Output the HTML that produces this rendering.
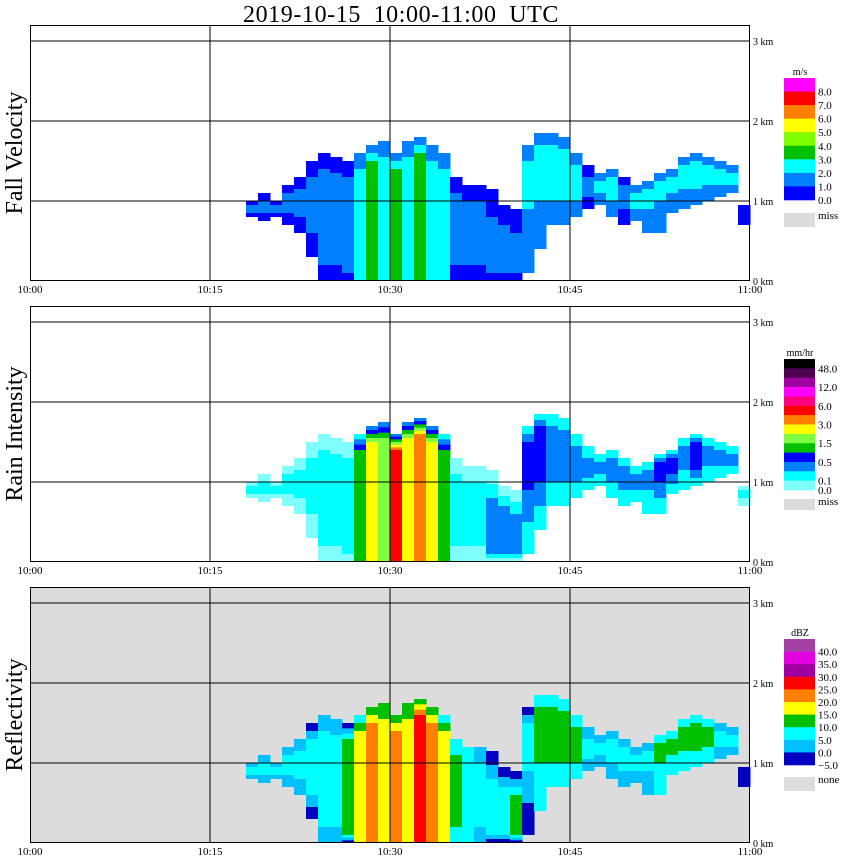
<!DOCTYPE html>
<html><head><meta charset="utf-8"><style>
html,body{margin:0;padding:0;background:#fff;}
svg{display:block;font-family:"Liberation Serif",serif;}
</style></head><body>
<svg id="chart" width="850" height="868" xmlns="http://www.w3.org/2000/svg">
<text x="401" y="22" font-size="24" text-anchor="middle" word-spacing="6" letter-spacing="0.6">2019-10-15  10:00-11:00 UTC</text>
</svg>
<script>
// ---- data (per minute, starting at minute 18) ----
const startMinute = 18;
const echoBase = [0.8,0.75,0.8,0.7,0.6,0.3,0,0,0,0,0,0,0,0,0,0,0,0,0,0,0,0,0,0.1,0.4,0.7,0.7,0.8,0.9,0.95,0.8,0.7,0.75,0.6,0.6,0.85,0.9,0.95,1.0,1.05,1.1,0.7];
const echoTop  = [1.0,1.1,1.0,1.2,1.3,1.5,1.6,1.55,1.5,1.6,1.7,1.75,1.6,1.75,1.8,1.7,1.6,1.3,1.2,1.2,1.15,0.95,0.9,1.7,1.85,1.85,1.8,1.6,1.45,1.35,1.4,1.3,1.2,1.25,1.35,1.4,1.55,1.6,1.55,1.5,1.45,0.95];
const coreLo   = [0.85,0.85,0.85,0.85,0.8,0.6,0.2,0.2,0.1,0,0,0,0,0,0,0,0,0.2,0.2,0.2,0.1,0.1,0.1,0.9,1.0,1.0,1.0,1.0,1.05,1.1,1.0,0.9,0.9,0.9,1.0,1.1,1.15,1.15,1.2,1.2,1.2,0.8];
const coreHi   = [0.95,1.0,0.95,1.1,1.15,1.3,1.4,1.35,1.3,1.4,1.5,1.55,1.4,1.55,1.6,1.5,1.4,1.1,1.0,1.0,0.8,0.7,0.6,1.5,1.7,1.7,1.65,1.45,1.3,1.25,1.3,1.2,1.1,1.15,1.25,1.3,1.45,1.5,1.45,1.4,1.35,0.9];
const fvEdge = [0,0,0,0,0,0,0,0,0,1,1,1,1,1,1,1,1,0,0,0,0,0,0,1,1,1,1,1,0,1,1,0,1,1,1,1,1,1,1,1,1,0];
const fvCore = [1,1,1,1,1,1,1,1,1,2,3,2,3,2,3,2,2,1,1,1,1,1,1,2,2,2,2,2,1,2,2,1,2,2,2,2,2,2,2,2,2,0];
const rrEdge = [0,0,0,0,0,0,0,0,0,1,2,2,2,2,2,2,1,0,0,0,0,0,0,1,1,1,1,1,1,1,1,1,1,1,1,1,1,1,1,1,1,0];
const rrCore = [1,1,1,1,1,1,1,1,1,4,6,5,8,6,7,6,4,1,1,1,2,2,2,3,3,2,2,2,2,2,2,2,2,2,3,3,2,3,2,2,2,1];
const dzEdge = [1,1,1,1,1,0,1,1,0,2,3,3,3,3,3,3,2,2,2,1,0,0,0,0,2,2,2,2,1,1,1,1,1,1,2,2,2,2,2,1,1,0];
const dzCore = [2,2,2,2,2,2,2,2,3,4,5,4,5,4,6,5,4,3,2,2,2,2,3,2,3,3,3,3,2,2,2,2,2,2,3,3,3,3,3,2,2,0];
const timeLabels = ["10:00","10:15","10:30","10:45","11:00"];
const kmLabels = ["0 km","1 km","2 km","3 km"];
const fvColors = ["#0000ff","#0080ff","#00ffff","#00c000","#80ff00","#ffff00","#ff8000","#ff0000","#ff00ff"];
const fvLabels = ["8.0","7.0","6.0","5.0","4.0","3.0","2.0","1.0","0.0"];
const rrColors = ["#80ffff","#00ffff","#0080ff","#0000ff","#00c000","#80ff40","#ffff00","#ff8000","#ff0000","#ff0080","#ff00ff","#a000a0","#500050","#000000"];
const rrLabels = ["48.0","","12.0","","6.0","","3.0","","1.5","","0.5","","0.1","0.0"];
const dzColors = ["#0000c0","#00c0ff","#00ffff","#00c000","#ffff00","#ff8000","#ff0000","#a000a0","#e000e0","#a040a0"];
const dzLabels = ["40.0","35.0","30.0","25.0","20.0","15.0","10.0","5.0","0.0","\u22125.0"];

const NS="http://www.w3.org/2000/svg";
const svg=document.getElementById('chart');
function mk(tag,attrs,parent){const e=document.createElementNS(NS,tag);for(const k in attrs)e.setAttribute(k,attrs[k]);(parent||svg).appendChild(e);return e;}
const X0=30,X1=750;
function xOf(min){return X0+(X1-X0)*min/60;}

const panels=[
 {name:'fall-velocity',title:'Fall Velocity',top:25,bg:'#ffffff',colors:fvColors,edge:fvEdge,core:fvCore,unit:'m/s',labels:fvLabels,lx:784,ly:78,lh:122,miss:'miss',missY:213,missH:14},
 {name:'rain-intensity',title:'Rain Intensity',top:306,bg:'#ffffff',colors:rrColors,edge:rrEdge,core:rrCore,unit:'mm/hr',labels:rrLabels,lx:784,ly:359,lh:131,miss:'miss',missY:499,missH:11},
 {name:'reflectivity',title:'Reflectivity',top:587,bg:'#dcdcdc',colors:dzColors,edge:dzEdge,core:dzCore,unit:'dBZ',labels:dzLabels,lx:784,ly:639,lh:126,miss:'none',missY:777,missH:14}
];

panels.forEach(p=>{
 const bottom=p.top+256;
 const yOf=km=>bottom-80*km;
 const g=mk('g',{});
 
 
 const bg=mk('rect',{x:X0,y:p.top,width:X1-X0,height:256,fill:p.bg},g);
 
 
 const echo=mk('g',{},g);
 
 
 for(let i=0;i<echoBase.length;i++){
  const e=p.edge[i],c=p.core[i];
  if(echoTop[i]<=echoBase[i]) continue;
  const n=Math.max(c-e,0);
  const x=xOf(startMinute+i), w=xOf(startMinute+i+1)-x;
  for(let k=0;k<=n;k++){
   const f=n?k/n:0;
   const lo=echoBase[i]+(coreLo[i]-echoBase[i])*f;
   const hi=echoTop[i]+(coreHi[i]-echoTop[i])*f;
   const r=mk('rect',{x:x,y:yOf(hi),width:w+0.5,height:Math.max(yOf(lo)-yOf(hi),0),fill:p.colors[e+k]},echo);
   
   
  }
 }
 [1,2,3].forEach(km=>{const l=mk('line',{x1:X0,x2:X1,y1:yOf(km),y2:yOf(km),stroke:'#000','stroke-width':1},g);
  
  });
 [15,30,45].forEach(m=>{const l=mk('line',{x1:xOf(m),x2:xOf(m),y1:p.top,y2:bottom,stroke:'#000','stroke-width':1},g);
  
  });
 const fr=mk('rect',{x:X0+0.5,y:p.top+0.5,width:X1-X0-1,height:255,fill:'none',stroke:'#000'},g);
 
 
 timeLabels.forEach((t,j)=>{const tx=mk('text',{x:xOf(j*15),y:bottom+12,'font-size':11,'text-anchor':'middle'},g);tx.textContent=t;
  
  });
 kmLabels.forEach((t,j)=>{const tx=mk('text',{x:753,y:yOf(j)+4,'font-size':10},g);tx.textContent=t;
  
  });
 const yt=mk('text',{x:0,y:0,'font-size':24,'text-anchor':'middle',transform:`translate(22,${p.top+128}) rotate(-90)`},g);
 yt.textContent=p.title;
 
 
 const lg=mk('g',{},g);
 
 
 const ut=mk('text',{x:800,y:p.ly-3,'font-size':10,'text-anchor':'middle'},lg);ut.textContent=p.unit;
 
 
 const nb=p.labels.length,bh=p.lh/nb;
 for(let j=0;j<nb;j++){
  const col=p.colors[nb-1-j];
  const b=mk('rect',{x:p.lx,y:p.ly+j*bh,width:31,height:bh+0.3,fill:col},lg);
  
  
  if(p.labels[j]){const t=mk('text',{x:818,y:p.ly+(j+1)*bh+4,'font-size':11},lg);t.textContent=p.labels[j];
   
   }
 }
 const mb=mk('rect',{x:p.lx,y:p.missY,width:31,height:p.missH,fill:'#dcdcdc'},lg);
 
 
 const mt=mk('text',{x:818,y:p.missY+6,'font-size':11},lg);mt.textContent=p.miss;
 
 
});
</script>
</body></html>
